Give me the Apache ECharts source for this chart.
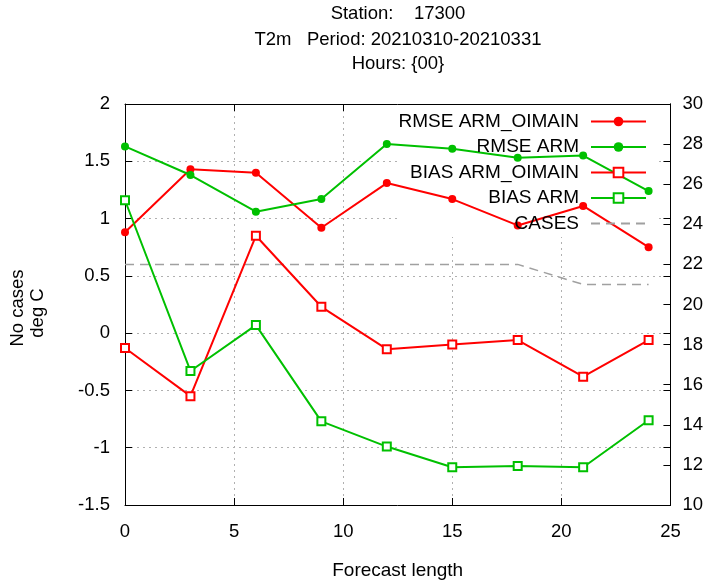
<!DOCTYPE html>
<html>
<head>
<meta charset="utf-8">
<script src="https://cdn.jsdelivr.net/npm/echarts@6/dist/echarts.min.js"></script>
<style>html,body{margin:0;padding:0;background:#fff;}#c{width:706px;height:585px;}</style>
</head>
<body>
<div id="c"></div>
<script>
const forecastLength = [0, 3, 6, 9, 12, 15, 18, 21, 24];
const rmseArmOimain = [0.88, 1.43, 1.40, 0.92, 1.31, 1.17, 0.94, 1.11, 0.75];
const rmseArm = [1.63, 1.38, 1.06, 1.17, 1.65, 1.61, 1.53, 1.55, 1.24];
const biasArmOimain = [-0.13, -0.55, 0.85, 0.23, -0.14, -0.10, -0.06, -0.38, -0.06];
const biasArm = [1.16, -0.33, 0.07, -0.77, -0.99, -1.17, -1.16, -1.17, -0.76];
const cases = [22, 22, 22, 22, 22, 22, 22, 21, 21];
const seriesNames = ['RMSE ARM_OIMAIN', 'RMSE ARM', 'BIAS ARM_OIMAIN', 'BIAS ARM', 'CASES'];
const titleLines = ['Station:    17300', 'T2m   Period: 20210310-20210331', 'Hours: {00}'];

const FONT = "'Liberation Sans', Arial, sans-serif";
const RED = '#ff0000', GREEN = '#00c000', GRAY = '#a0a0a0';
const pairs = arr => forecastLength.map((x, i) => [x, arr[i]]);

const chart = echarts.init(document.getElementById('c'), null, {renderer: 'canvas'});
const gridLine = {show: true, lineStyle: {color: '#b0b0b0', type: [2, 4], width: 1}};
const axisLineBlack = {show: true, onZero: false, lineStyle: {color: '#000', width: 1}};
const tickIn = {show: true, inside: true, length: 7, lineStyle: {color: '#000'}};
const lbl = {color: '#000', fontSize: 18.5, fontFamily: FONT};

function mkSeries(name, data, color, symbol, yIdx, extra) {
  return Object.assign({
    name, type: 'line', data: pairs(data), yAxisIndex: yIdx,
    symbol, symbolSize: 8, showSymbol: true,
    lineStyle: {color, width: 2}, itemStyle: {color, borderWidth: 2},
    emphasis: {disabled: true}, animation: false, z: 3
  }, extra || {});
}
function txt(x, y, text, size, rot) {
  return {type: 'text', x, y, rotation: rot || 0, silent: true,
    style: {text, align: 'center', verticalAlign: 'middle', fontSize: size, fontFamily: FONT, fill: '#000'}};
}

const option = {
  animation: false,
  grid: {left: 125, right: 34, top: 104, bottom: 79},
  xAxis: [
    {type: 'value', min: 0, max: 25, interval: 5, position: 'bottom',
     axisLine: axisLineBlack, axisTick: tickIn, splitLine: gridLine,
     axisLabel: Object.assign({margin: 17}, lbl),
     name: 'Forecast length', nameLocation: 'middle', nameGap: 56,
     nameTextStyle: {color: '#000', fontSize: 19, fontFamily: FONT}},
    {type: 'value', min: 0, max: 25, interval: 5, position: 'top',
     axisLine: axisLineBlack, axisTick: tickIn, splitLine: {show: false},
     axisLabel: {show: false}}
  ],
  yAxis: [
    {type: 'value', min: -1.5, max: 2, interval: 0.5, position: 'left',
     axisLine: axisLineBlack, axisTick: tickIn, splitLine: gridLine,
     axisLabel: Object.assign({margin: 15}, lbl)},
    {type: 'value', min: 10, max: 30, interval: 2, position: 'right',
     axisLine: axisLineBlack, axisTick: tickIn, splitLine: {show: false},
     axisLabel: Object.assign({margin: 12}, lbl)},
    {type: 'value', min: -1.5, max: 2, interval: 0.5, position: 'right',
     axisLine: axisLineBlack, axisTick: tickIn, splitLine: {show: false},
     axisLabel: {show: false}}
  ],
  legend: {
    orient: 'vertical', align: 'right', right: 59, top: 112, padding: 0,
    itemWidth: 55, itemHeight: 12, itemGap: 6.5,
    selectedMode: false,
    textStyle: {color: '#000', fontSize: 19, fontFamily: FONT, padding: [0, 7, 0, 0]},
    data: [
      {name: seriesNames[0]}, {name: seriesNames[1]}, {name: seriesNames[2]}, {name: seriesNames[3]},
      {name: seriesNames[4], itemStyle: {color: 'rgba(0,0,0,0)', borderColor: 'rgba(0,0,0,0)', borderWidth: 0, opacity: 0}}
    ]
  },
  graphic: [
    {type: 'rect', z: 1, silent: true, shape: {x: 400, y: 105, width: 257, height: 132}, style: {fill: '#fff'}},
    txt(398, 14, titleLines[0], 18.5),
    txt(398, 40, titleLines[1], 18.5),
    txt(398, 64, titleLines[2], 18.5),
    txt(18, 308, 'No cases', 18.5, Math.PI / 2),
    txt(38, 313, 'deg C', 18.5, Math.PI / 2)
  ],
  series: [
    mkSeries(seriesNames[0], rmseArmOimain, RED, 'circle', 0),
    mkSeries(seriesNames[1], rmseArm, GREEN, 'circle', 0),
    mkSeries(seriesNames[2], biasArmOimain, RED, 'emptyRect', 0),
    mkSeries(seriesNames[3], biasArm, GREEN, 'emptyRect', 0),
    mkSeries(seriesNames[4], cases, GRAY, 'none', 1,
      {showSymbol: false, lineStyle: {color: GRAY, width: 1.5, type: [9, 6]}, itemStyle: {color: GRAY}, z: 2})
  ]
};
chart.setOption(option);
</script>
</body>
</html>
